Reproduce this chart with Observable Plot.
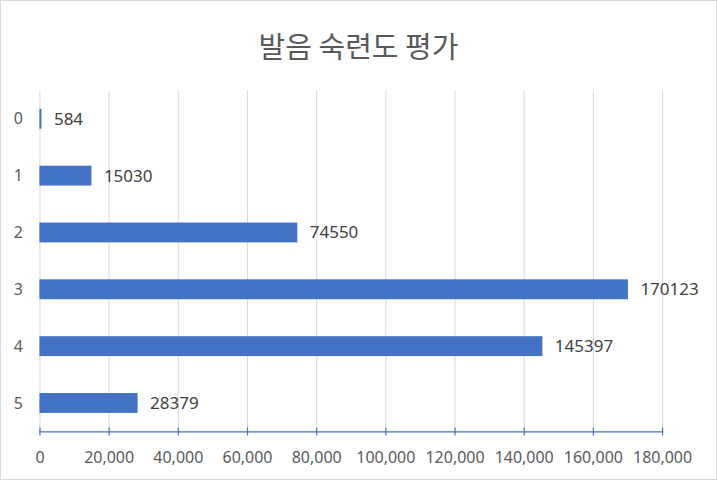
<!DOCTYPE html>
<html><head><meta charset="utf-8">
<script src="https://cdn.jsdelivr.net/npm/d3@7"></script>
<script src="https://cdn.jsdelivr.net/npm/@observablehq/plot@0.6"></script>
<style>
body{margin:0;background:#fff;}
#wrap{position:relative;width:717px;height:480px;box-sizing:border-box;border:1px solid #d9d9d9;background:#fff;overflow:hidden;}
#title{position:absolute;left:0;top:25px;width:100%;text-align:center;font-family:"Noto Sans CJK KR";font-size:29px;color:#595959;line-height:38px;}
#chart{position:absolute;left:-1px;top:-1px;}
</style></head>
<body><div id="wrap"><div id="title">발음 숙련도 평가</div><div id="chart"></div></div>
<script>
const categories = ["0","1","2","3","4","5"];
const values = [584, 15030, 74550, 170123, 145397, 28379];
const xTicks = [0,20000,40000,60000,80000,100000,120000,140000,160000,180000];
const data = categories.map((c,i)=>({cat:c, value:values[i]}));
const blue = "#4472C4";
const font = "'Noto Sans', sans-serif";
const chart = Plot.plot({
  width: 717, height: 480,
  marginTop: 90.5, marginBottom: 48, marginLeft: 39.5, marginRight: 54,
  style: {fontFamily: font, fontSize: "16px", color: "#595959", background: "transparent"},
  x: {domain: [0,180000], ticks: xTicks},
  y: {domain: categories, paddingInner: 0.65, paddingOuter: 0.325, round: false, label: null},
  marks: [
    Plot.gridX(xTicks, {stroke: "#d9d9d9", strokeOpacity: 1, strokeWidth: 1}),
    Plot.frame({anchor: "bottom", stroke: blue, strokeWidth: 1.2}),
    Plot.axisX(xTicks, {tickSize: 8, dy: -4, text: null, stroke: blue, strokeWidth: 1.2, label: null}),
    Plot.axisX(xTicks, {tickSize: 0, tickPadding: 20, tickFormat: d3.format(","), label: null, fill: "#595959", fontSize: 16}),
    Plot.axisY({tickSize: 0, tickPadding: 17, label: null, fill: "#595959", fontSize: 16}),
    Plot.barX(data, {x: "value", y: "cat", fill: blue}),
    Plot.text(data, {x: "value", y: "cat", text: d => String(d.value), textAnchor: "start", dx: 12, fill: "#404040", fontSize: 17})
  ]
});
document.getElementById("chart").appendChild(chart);
</script></body></html>
